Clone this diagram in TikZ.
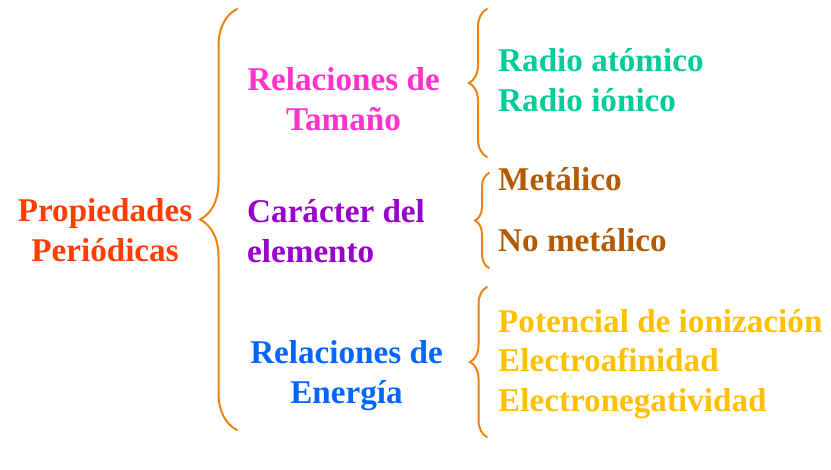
\documentclass[tikz,border=0pt]{standalone}
\usepackage{fontspec}
\setmainfont{Liberation Serif}
\usetikzlibrary{decorations.pathreplacing}
\definecolor{xred}{RGB}{255,61,0}
\definecolor{xpink}{RGB}{255,51,204}
\definecolor{xpurple}{RGB}{153,0,204}
\definecolor{xblue}{RGB}{0,102,255}
\definecolor{xgreen}{RGB}{0,204,153}
\definecolor{xbrown}{RGB}{180,90,0}
\definecolor{xgold}{RGB}{255,192,0}
\definecolor{xbrace}{RGB}{240,130,20}

\begin{document}
\begin{tikzpicture}[x=0.03cm, y=-0.03cm,
  txt/.style={font=\fontsize{28.3}{34}\selectfont\bfseries, inner sep=0pt, text=#1},
  curly/.style={draw=xbrace, line width=0.06cm, line cap=round, decorate,
                decoration={brace, amplitude=#1}}
]
  \useasboundingbox (0,0) rectangle (831,469);

  % main topic
  \node[txt=xred, align=center] (props) at (105,230) {Propiedades\\Periódicas};

  % big brace
  \coordinate (mainlow) at (237,430);
  \coordinate (mainup)  at (237,9);
  \draw[curly=1.11cm] (mainlow) -- (mainup);

  % groups
  \node[txt=xpink, align=center]   (tam) at (343.5,99) {Relaciones de\\Tamaño};
  \node[txt=xpurple, align=left, anchor=west] (car) at (247,231) {Carácter del\\elemento};
  \node[txt=xblue, align=center]   (ene) at (346.5,376) {Relaciones de\\Energía};

  % small braces
  \coordinate (tamlow) at (487,157);
  \coordinate (tamup)  at (487,9);
  \draw[curly=0.54cm] (tamlow) -- (tamup);
  \coordinate (carlow) at (489,268);
  \coordinate (carup)  at (489,173);
  \draw[curly=0.42cm] (carlow) -- (carup);
  \coordinate (enelow) at (487,437);
  \coordinate (eneup)  at (487,287);
  \draw[curly=0.51cm] (enelow) -- (eneup);

  % items
  \node[txt=xgreen, align=left, anchor=west] (radio) at (498,80.5) {Radio atómico\\Radio iónico};
  \node[txt=xbrown, align=left, anchor=west] (metal) at (498,209.5) {Metálico\\[0.63cm]No metálico};
  \node[txt=xgold, align=left, anchor=west]  (energ) at (498,364)
    {Potencial de ionización\\Electroafinidad\\Electronegatividad};
\end{tikzpicture}
\end{document}
